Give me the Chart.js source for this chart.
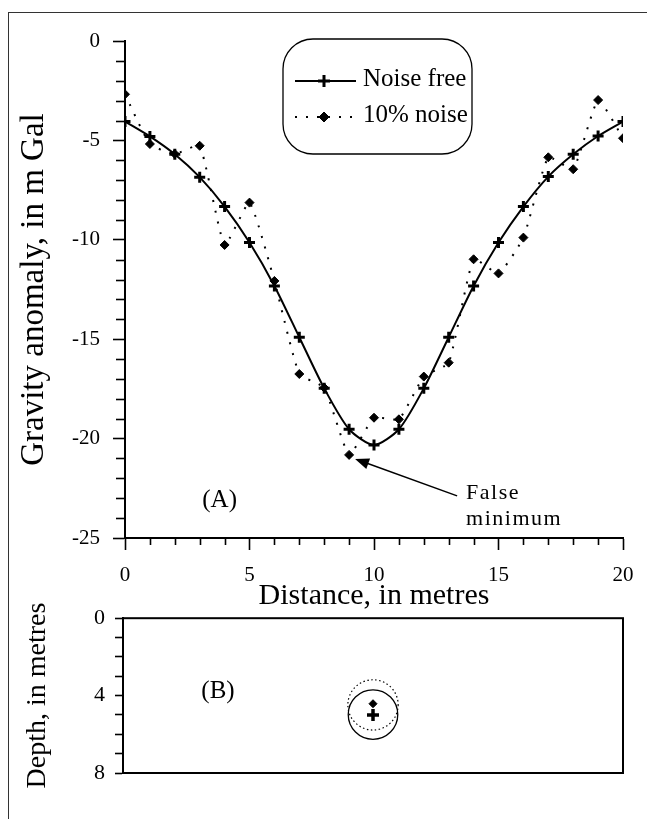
<!DOCTYPE html>
<html><head><meta charset="utf-8">
<script src="https://cdn.jsdelivr.net/npm/chart.js@4.4.1/dist/chart.umd.min.js"></script>
<style>
html,body{margin:0;padding:0;background:#fff;width:647px;height:819px;overflow:hidden;position:relative}
#frame{position:absolute;left:8px;top:12px;width:660px;height:830px;border-left:1.5px solid #333;border-top:1.5px solid #333;box-sizing:border-box}
#c1{position:absolute;left:0;top:0}
#c2{position:absolute;left:0;top:595px}
</style></head><body>
<div id="frame"></div>
<canvas id="c1" width="647" height="614"></canvas>
<canvas id="c2" width="647" height="224"></canvas>
<script>
// ---- data ----
const distances = [0,1,2,3,4,5,6,7,8,9,10,11,12,13,14,15,16,17,18,19,20];
const noiseFree = [-4.05,-4.8,-5.7,-6.85,-8.33,-10.14,-12.32,-14.9,-17.47,-19.53,-20.32,-19.53,-17.47,-14.9,-12.32,-10.14,-8.33,-6.82,-5.7,-4.78,-4.05];
const noisy = [-2.68,-5.18,-5.68,-5.27,-10.26,-8.13,-12.07,-16.75,-17.44,-20.82,-18.95,-19.03,-16.88,-16.18,-10.98,-11.69,-9.89,-5.85,-6.45,-2.97,-4.89];
const seriesLabels = ['Noise free','10% noise'];
const gravityTicks = [0,-5,-10,-15,-20,-25];
const distanceTicks = [0,5,10,15,20];
const depthTicks = [0,4,8];
// panel B: source estimates (distance, depth in metres)
const sourceDistance = [10,10];          // noise free, 10% noise
const sourceDepth = [5.0,4.42];
const outlineDepth = [4.98,4.48];        // centre of outline circles
const outlineRadius = [1.28,1.3];        // radius (m)
const falseMinIndex = 9;

const FONT = "'Liberation Serif','Times New Roman',serif";
Chart.defaults.color = '#000';
Chart.defaults.font.family = FONT;

function drawMarker(ctx, style, radius, bw, x, y){
  ctx.save();
  ctx.fillStyle = '#000'; ctx.strokeStyle = '#000'; ctx.lineWidth = bw;
  Chart.helpers.drawPoint(ctx, {pointStyle: style, radius: radius, borderWidth: bw, rotation: 0}, x, y);
  ctx.restore();
}

const minorTicks = {
  id:'minorTicks',
  afterDraw(chart){
    const {ctx, scales:{x,y}, chartArea:a} = chart;
    ctx.save(); ctx.strokeStyle='#000'; ctx.lineWidth=1.6;
    for(let v=y.min; v<=y.max; v++){
      if(v%5===0) continue;
      const p = Math.round(y.getPixelForValue(v))+0.5;
      ctx.beginPath(); ctx.moveTo(a.left-9,p); ctx.lineTo(a.left,p); ctx.stroke();
    }
    for(let v=x.min; v<=x.max; v++){
      if(v%5===0) continue;
      const p = Math.round(x.getPixelForValue(v))+0.5;
      ctx.beginPath(); ctx.moveTo(p,a.bottom); ctx.lineTo(p,a.bottom+7); ctx.stroke();
    }
    ctx.restore();
  }
};

const legendBox = {
  id:'legendBox',
  afterDraw(chart){
    const ctx = chart.ctx;
    const bx=283, by=39, bw=189, bh=115, r=30;
    ctx.save();
    ctx.strokeStyle='#000'; ctx.lineWidth=1.3;
    ctx.beginPath(); ctx.roundRect(bx,by,bw,bh,r); ctx.stroke();
    const rows = [81,117];
    chart.data.datasets.forEach((ds,i)=>{
      const yy = rows[i];
      ctx.strokeStyle='#000'; ctx.lineWidth = ds.borderWidth;
      ctx.setLineDash(ds.borderDash || []);
      ctx.beginPath(); ctx.moveTo(295,yy); ctx.lineTo(356,yy); ctx.stroke();
      ctx.setLineDash([]);
      drawMarker(ctx, ds.pointStyle, ds.pointRadius+0.5, ds.pointBorderWidth, 324, yy);
      ctx.fillStyle='#000'; ctx.font = '25px '+FONT; ctx.textBaseline='alphabetic'; ctx.textAlign='left';
      ctx.fillText(ds.label, 363, yy+5);
    });
    ctx.restore();
  }
};

const annotations = {
  id:'annotations',
  afterDraw(chart){
    const {ctx, scales:{x,y}} = chart;
    ctx.save();
    ctx.fillStyle='#000'; ctx.font='25px '+FONT; ctx.textAlign='center'; ctx.textBaseline='middle';
    ctx.fillText('(A)', x.getPixelForValue(3.8), y.getPixelForValue(-23.1));
    // arrow to the false minimum
    const px = x.getPixelForValue(distances[falseMinIndex]) + 6;
    const py = y.getPixelForValue(noisy[falseMinIndex]) + 4;
    const tx = px + 102, ty = py + 37;
    const ang = Math.atan2(ty-py, tx-px);
    ctx.strokeStyle='#000'; ctx.lineWidth=1.5;
    ctx.beginPath(); ctx.moveTo(px+Math.cos(ang)*12, py+Math.sin(ang)*12); ctx.lineTo(tx,ty); ctx.stroke();
    ctx.beginPath();
    ctx.moveTo(px,py);
    ctx.lineTo(px+Math.cos(ang+0.38)*15, py+Math.sin(ang+0.38)*15);
    ctx.lineTo(px+Math.cos(ang-0.38)*15, py+Math.sin(ang-0.38)*15);
    ctx.closePath(); ctx.fill();
    ctx.font='22px '+FONT; ctx.textAlign='left'; ctx.textBaseline='alphabetic';
    try{ ctx.letterSpacing='1.5px'; }catch(e){}
    ctx.fillText('False', tx+9, ty+3);
    ctx.fillText('minimum', tx+9, ty+29);
    ctx.restore();
  }
};

new Chart(document.getElementById('c1'), {
  type:'line',
  data:{ datasets:[
    { label: seriesLabels[0], data: distances.map((d,i)=>({x:d, y:noiseFree[i]})),
      borderColor:'#000', backgroundColor:'#000', borderWidth:2, tension:0.25,
      pointStyle:'cross', pointRadius:5.5, pointBorderWidth:3, pointBorderColor:'#000', pointBackgroundColor:'#000' },
    { label: seriesLabels[1], data: distances.map((d,i)=>({x:d, y:noisy[i]})),
      borderColor:'#000', backgroundColor:'#000', borderWidth:2, borderDash:[2,9], tension:0.15,
      pointStyle:'rectRot', pointRadius:4.5, pointBorderWidth:1, pointBorderColor:'#000', pointBackgroundColor:'#000' }
  ]},
  options:{
    responsive:false, animation:false, devicePixelRatio:1,
    layout:{padding:{left:0,right:24,top:41,bottom:0}},
    plugins:{legend:{display:false}, tooltip:{enabled:false}},
    scales:{
      x:{ type:'linear', min:0, max:20,
        afterFit(s){ s.height = 76; },
        afterBuildTicks(s){ s.ticks = distanceTicks.map(v=>({value:v})); },
        border:{color:'#000', width:2},
        grid:{drawOnChartArea:false, tickLength:12, tickWidth:1.6, tickColor:'#000'},
        ticks:{autoSkip:false, maxRotation:0, padding:13, color:'#000', font:{family:FONT,size:21}},
        title:{display:true, text:'Distance, in metres', color:'#000', font:{family:FONT,size:30}, padding:{top:0,bottom:0}}
      },
      y:{ min:-25, max:0,
        afterFit(s){ s.width = 125; },
        afterBuildTicks(s){ s.ticks = gravityTicks.map(v=>({value:v})); },
        border:{color:'#000', width:2},
        grid:{drawOnChartArea:false, tickLength:12, tickWidth:1.6, tickColor:'#000'},
        ticks:{autoSkip:false, padding:13, color:'#000', font:{family:FONT,size:21}},
        title:{display:true, text:'Gravity anomaly, in m Gal', color:'#000', font:{family:FONT,size:33}, padding:{top:15,bottom:0}}
      }
    }
  },
  plugins:[minorTicks, legendBox, annotations]
});

const panelB = {
  id:'panelB',
  afterDraw(chart){
    const {ctx, scales:{x,y}, chartArea:a} = chart;
    ctx.save();
    ctx.strokeStyle='#000'; ctx.lineWidth=2;
    ctx.strokeRect(a.left, a.top, a.right-a.left, a.bottom-a.top);
    ctx.fillStyle='#000'; ctx.font='25px '+FONT; ctx.textAlign='center'; ctx.textBaseline='middle';
    ctx.fillText('(B)', x.getPixelForValue(3.8), y.getPixelForValue(3.8));
    for(let i=0;i<sourceDistance.length;i++){
      const cx = x.getPixelForValue(sourceDistance[i]);
      const cy = y.getPixelForValue(outlineDepth[i]);
      const rr = Math.abs(y.getPixelForValue(outlineRadius[i]) - y.getPixelForValue(0));
      ctx.lineWidth = i===0 ? 1.3 : 1.2;
      ctx.setLineDash(i===0 ? [] : [1.5,2.5]);
      ctx.beginPath(); ctx.arc(cx, cy, rr, 0, Math.PI*2); ctx.stroke();
    }
    ctx.restore();
  }
};

new Chart(document.getElementById('c2'), {
  type:'scatter',
  data:{ datasets:[
    { label: seriesLabels[0], data:[{x:sourceDistance[0], y:sourceDepth[0]}],
      pointStyle:'cross', pointRadius:6, pointBorderWidth:3.5, pointBorderColor:'#000', pointBackgroundColor:'#000' },
    { label: seriesLabels[1], data:[{x:sourceDistance[1], y:sourceDepth[1]}],
      pointStyle:'rectRot', pointRadius:4, pointBorderWidth:1, pointBorderColor:'#000', pointBackgroundColor:'#000' }
  ]},
  options:{
    responsive:false, animation:false, devicePixelRatio:1,
    layout:{padding:{left:0,right:24,top:17,bottom:46}},
    plugins:{legend:{display:false}, tooltip:{enabled:false}},
    scales:{
      x:{ type:'linear', min:0, max:20, display:false },
      y:{ min:0, max:8, reverse:true,
        afterFit(s){ s.width = 123; },
        border:{color:'#000', width:2},
        grid:{drawOnChartArea:false, tickLength:8, tickWidth:1.6, tickColor:'#000'},
        ticks:{stepSize:1, autoSkip:false, padding:10, color:'#000', font:{family:FONT,size:22},
          callback:(v)=> depthTicks.includes(v) ? String(v) : ''},
        title:{display:true, text:'Depth, in metres', color:'#000', font:{family:FONT,size:28}, padding:{top:21,bottom:0}}
      }
    }
  },
  plugins:[panelB]
});
</script>
</body></html>
